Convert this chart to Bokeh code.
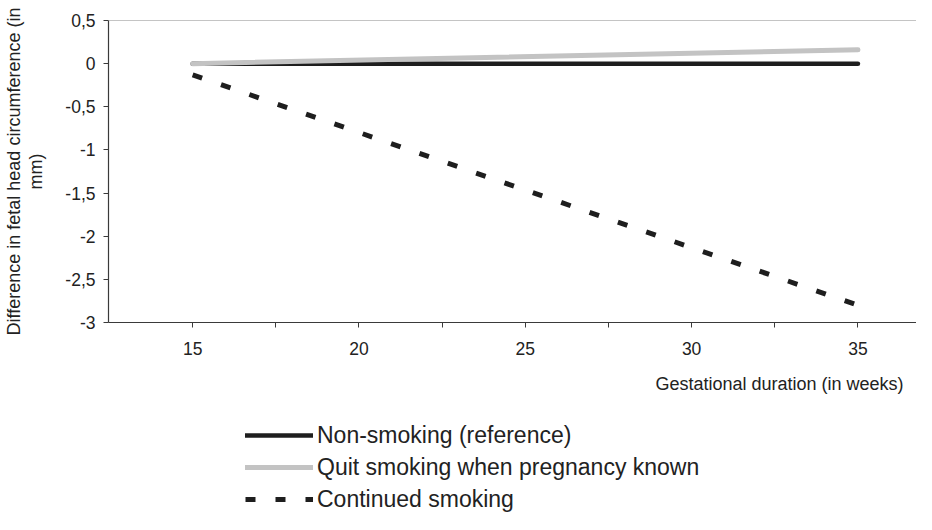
from bokeh.plotting import figure
from bokeh.layouts import column
from bokeh.models import (Range1d, FixedTicker, CustomJSTickFormatter, Span, Title,
                          Legend, LegendItem, LinearAxis)
from bokeh.embed import file_html
from bokeh.resources import INLINE

# ---- data ----
weeks = [15, 35]
non_smoking = [0.0, 0.0]
quit_smoking = [0.0, 0.16]
continued_smoking = [-0.13, -2.80]

x_ticks = [15, 17.5, 20, 22.5, 25, 27.5, 30, 32.5, 35]
y_ticks = [-3, -2.5, -2, -1.5, -1, -0.5, 0, 0.5]

series_labels = ["Non-smoking (reference)",
                 "Quit smoking when pregnancy known",
                 "Continued smoking"]
x_title = "Gestational duration (in weeks)"
y_title_lines = ["Difference in fetal head circumference (in", "mm)"]

FONT = "Liberation Sans"
DARK = "#1e1e1e"
GRAY = "#c3c3c3"
TXT = "#222222"

styles = [dict(line_color=DARK, line_width=4.5, line_cap="round"),
          dict(line_color=GRAY, line_width=5, line_cap="round"),
          dict(line_color=DARK, line_width=5, line_dash="10 20")]
series = [non_smoking, quit_smoking, continued_smoking]

p = figure(width=916, height=420, output_backend="svg", toolbar_location=None,
           x_range=Range1d(12.47, 36.76), y_range=Range1d(-3, 0.5),
           min_border_left=103, min_border_right=0, min_border_top=20,
           min_border_bottom=98)
p.outline_line_color = None
p.background_fill_color = "white"
p.border_fill_color = "white"
p.xgrid.visible = False
p.ygrid.visible = False

# top border line at 0.5
p.add_layout(Span(location=0.5, dimension="width", line_color="#8a8a8a", line_width=1.2))

for vals, s in zip(series, styles):
    p.line(weeks, vals, **s)

# axes
for ax in (p.xaxis[0], p.yaxis[0]):
    ax.axis_line_color = "#3a3a3a"
    ax.axis_line_width = 1.2
    ax.major_tick_line_color = "#3a3a3a"
    ax.major_tick_in = 0
    ax.major_tick_out = 5
    ax.minor_tick_line_color = None
    ax.major_label_text_font = FONT
    ax.major_label_text_font_size = "17.5px"
    ax.major_label_text_color = TXT

p.xaxis[0].ticker = FixedTicker(ticks=x_ticks)
p.xaxis[0].formatter = CustomJSTickFormatter(
    code="return (tick % 5 == 0) ? tick.toString() : '';")
p.xaxis[0].major_label_standoff = 14

yax = p.yaxis[0]
yax.ticker = FixedTicker(ticks=y_ticks)
yax.formatter = CustomJSTickFormatter(code="return tick.toString().replace('.', ',');")
yax.major_label_standoff = 8
yax.axis_label = y_title_lines[1]
yax.axis_label_standoff = 16
yax.axis_label_text_font = FONT
yax.axis_label_text_font_size = "18px"
yax.axis_label_text_font_style = "normal"
yax.axis_label_text_color = TXT

# outer, label-only axis carrying the first line of the y title
yax2 = LinearAxis(ticker=FixedTicker(ticks=[]), axis_line_color=None,
                  major_tick_line_color=None, minor_tick_line_color=None,
                  major_tick_out=0, major_tick_in=0, major_label_standoff=0,
                  axis_label=y_title_lines[0], axis_label_standoff=0,
                  axis_label_text_font=FONT, axis_label_text_font_size="18px",
                  axis_label_text_font_style="normal", axis_label_text_color=TXT)
p.add_layout(yax2, "left")

# x title right aligned below the axis
t_x = Title(text=x_title, align="right", offset=13, standoff=33,
            vertical_align="top", text_font=FONT, text_font_size="18px",
            text_font_style="normal", text_color=TXT)
p.add_layout(t_x, "below")

# legend area below the chart (legend glyphs come from the same series,
# drawn outside this panel's visible ranges)
q = figure(width=916, height=94, output_backend="svg", toolbar_location=None,
           x_range=Range1d(0, 1), y_range=Range1d(0, 1),
           x_axis_type=None, y_axis_type=None, min_border=0)
q.outline_line_color = None
q.xgrid.visible = False
q.ygrid.visible = False
leg_renderers = [q.line(weeks, vals, **s) for vals, s in zip(series, styles)]

legend = Legend(items=[LegendItem(label=lab, renderers=[r])
                       for lab, r in zip(series_labels, leg_renderers)],
                location=(137, 0), orientation="vertical",
                glyph_width=68, glyph_height=30, label_height=30, spacing=2,
                padding=0, margin=0, label_standoff=4,
                label_text_font=FONT, label_text_font_size="23px",
                label_text_color=TXT,
                border_line_color=None, background_fill_alpha=0)
q.add_layout(legend)

layout = column(p, q, spacing=0)
open("out.html", "w").write(file_html(layout, INLINE))
